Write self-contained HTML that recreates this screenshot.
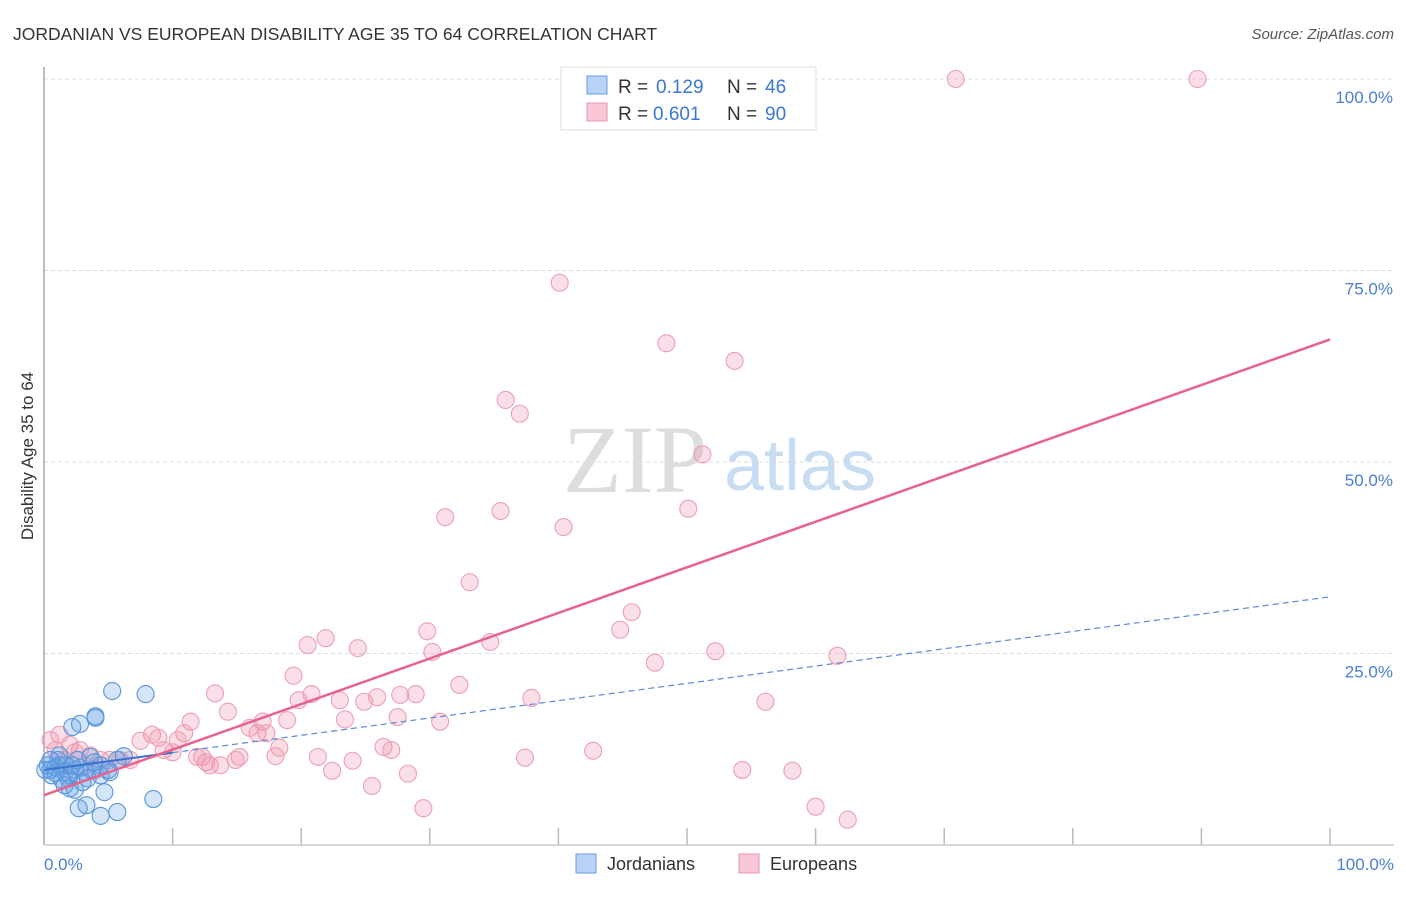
<!DOCTYPE html>
<html><head><meta charset="utf-8"><style>
body{margin:0;background:#fff;font-family:"Liberation Sans",sans-serif;}
</style></head><body>
<svg width="1406" height="892" xmlns="http://www.w3.org/2000/svg">
<text x="13" y="40" font-size="17.5" fill="#333">JORDANIAN VS EUROPEAN DISABILITY AGE 35 TO 64 CORRELATION CHART</text>
<text x="1394" y="39" font-size="15" fill="#555" font-style="italic" text-anchor="end">Source: ZipAtlas.com</text>
<text x="635" y="492" font-size="96" fill="#ddd" font-family="Liberation Serif,serif" text-anchor="middle">ZIP</text>
<text x="800" y="490" font-size="72" fill="#c8dcf2" text-anchor="middle">atlas</text>
<g id="grid"></g>
<line x1="44" y1="67" x2="44" y2="845" stroke="#aaa" stroke-width="1.5"/>
<line x1="44" y1="845" x2="1394" y2="845" stroke="#ccc" stroke-width="1.5"/>
<g id="ticks"></g>
<text transform="translate(33,456) rotate(-90)" font-size="17" fill="#333" text-anchor="middle">Disability Age 35 to 64</text>
<text x="44" y="870" font-size="17" fill="#4a7fd4">0.0%</text>
<text x="1394" y="870" font-size="17" fill="#4a7fd4" text-anchor="end">100.0%</text>
<g id="pts"></g>
<g id="lines"></g>
<g>
<rect x="561" y="67" width="255" height="63" fill="#fff" stroke="#ddd"/>
<rect x="587" y="76" width="20" height="18" fill="#b8d3f5" stroke="#6a9ee0"/>
<rect x="587" y="103" width="20" height="18" fill="#f9c6d5" stroke="#e898b0"/>
<text x="618" y="93" font-size="19" fill="#333">R =</text>
<text x="656" y="93" font-size="19" fill="#3a78d4">0.129</text>
<text x="727" y="93" font-size="19" fill="#333">N =</text>
<text x="765" y="93" font-size="19" fill="#3a78d4">46</text>
<text x="618" y="120" font-size="19" fill="#333">R =</text>
<text x="653" y="120" font-size="19" fill="#3a78d4">0.601</text>
<text x="727" y="120" font-size="19" fill="#333">N =</text>
<text x="765" y="120" font-size="19" fill="#3a78d4">90</text>
</g>
<g><rect x="576" y="854" width="20" height="19" fill="#b8d3f5" stroke="#6a9ee0"/><text x="607" y="870" font-size="18" fill="#333">Jordanians</text></g>
<g><rect x="739" y="854" width="20" height="19" fill="#f9c6d5" stroke="#e898b0"/><text x="770" y="870" font-size="18" fill="#333">Europeans</text></g>
</svg>
<script>
const blueX=[5.3,7.9,4.0,4.0,2.8,2.2,3.6,6.2,5.7,4.4,5.1,1.2,0.5,0.9,1.6,2.0,2.4,1.4,1.9,3.2,2.8,1.1,0.6,4.4,2.4,2.0,4.7,3.3,2.7,4.4,5.7,8.5,0.1,0.3,1.7,2.6,3.7,0.9,1.6,3.4,5.0,2.2,1.2,3.9,0.5,3.0];
const blueY=[20.1,19.7,16.8,16.6,15.8,15.4,11.5,11.6,11.1,10.4,9.5,10.4,9.8,10.1,9.5,9.1,9.8,8.5,8.7,9.5,10.1,11.1,9.1,9.1,7.2,7.4,6.9,5.2,4.8,3.8,4.3,6.0,9.8,10.4,10.4,11.1,9.8,9.4,7.8,8.7,9.8,10.4,11.7,10.8,11.1,8.2];
const pinkX=[70.9,89.7,40.1,48.4,53.7,35.9,37.0,51.2,50.1,31.2,35.5,40.4,33.1,45.7,44.8,29.8,21.9,20.5,24.4,30.2,34.7,52.2,47.5,61.7,19.4,32.3,13.3,20.8,19.8,23.0,25.9,24.9,27.7,28.9,37.9,56.1,14.3,11.4,17.0,18.9,23.4,27.5,30.8,8.4,10.9,10.4,7.5,8.9,16.6,17.3,16.0,18.3,26.4,27.0,9.3,10.0,12.3,15.2,12.6,14.9,12.9,13.7,18.0,21.3,24.0,11.9,42.7,37.4,22.4,28.3,54.3,58.2,25.5,29.5,60.0,62.5,4.4,5.1,5.9,6.7,1.2,2.0,2.8,3.6,0.5,0.9,1.6,2.4,3.2,4.0];
const pinkY=[100,100,73.4,65.5,63.2,58.1,56.3,51.0,43.9,42.8,43.6,41.5,34.3,30.4,28.1,27.9,27.0,26.1,25.7,25.2,26.5,25.3,23.8,24.7,22.1,20.9,19.8,19.7,18.9,18.9,19.3,18.7,19.6,19.7,19.2,18.7,17.4,16.1,16.1,16.3,16.4,16.7,16.1,14.4,14.6,13.7,13.6,14.0,14.6,14.6,15.3,12.7,12.8,12.4,12.4,12.1,11.5,11.5,10.8,11.1,10.4,10.4,11.6,11.5,11.0,11.5,12.3,11.4,9.7,9.3,9.8,9.7,7.7,4.8,5.0,3.3,11.1,11.1,11.1,11.1,14.4,13.1,12.4,11.7,13.7,12.4,11.1,12.1,10.4,9.8];
const blueFit=[9.8,32.4];
const pinkFit=[6.5,66.0];
const yTicks=[25,50,75,100];
const yLabels=["25.0%","50.0%","75.0%","100.0%"];
const xTicks=[10,20,30,40,50,60,70,80,90,100];
const NS="http://www.w3.org/2000/svg";
const X=v=>44+12.86*v, Y=v=>845-7.66*v;
function mk(t,a,p){const e=document.createElementNS(NS,t);for(const k in a)e.setAttribute(k,a[k]);document.getElementById(p).appendChild(e);return e;}
yTicks.forEach((v,i)=>{
 const l=mk('line',{x1:44,x2:1394,y1:Y(v),y2:Y(v),stroke:'#ddd','stroke-dasharray':'4,3'},'grid');
 
 
 const t=mk('text',{x:1393,y:Y(v)+24,'font-size':17,fill:'#4a7fd4','text-anchor':'end'},'grid');
 t.textContent=yLabels[i];
 
 
});
xTicks.forEach(v=>{
 const l=mk('line',{x1:X(v),x2:X(v),y1:828,y2:845,stroke:'#bbb','stroke-width':1.5},'ticks');
 
 
});
pinkX.forEach((v,i)=>{
 const c=mk('circle',{cx:X(v),cy:Y(pinkY[i]),r:8.5,fill:'rgba(242,140,170,0.28)',stroke:'#eba0b6','stroke-width':1.1},'pts');
 
 
});
blueX.forEach((v,i)=>{
 const c=mk('circle',{cx:X(v),cy:Y(blueY[i]),r:8.5,fill:'rgba(100,160,230,0.28)',stroke:'#5a95dc','stroke-width':1.1},'pts');
 
 
});
const bm=blueFit[0]+(blueFit[1]-blueFit[0])*0.1;
let l1=mk('line',{x1:X(0),y1:Y(blueFit[0]),x2:X(10),y2:Y(bm),stroke:'#3a6fd0','stroke-width':2},'lines');


let l2=mk('line',{x1:X(10),y1:Y(bm),x2:X(100),y2:Y(blueFit[1]),stroke:'#5a8ad8','stroke-width':1.2,'stroke-dasharray':'6,4'},'lines');


let l3=mk('line',{x1:X(0),y1:Y(pinkFit[0]),x2:X(100),y2:Y(pinkFit[1]),stroke:'#e8628e','stroke-width':2.5},'lines');


</script>
</body></html>
